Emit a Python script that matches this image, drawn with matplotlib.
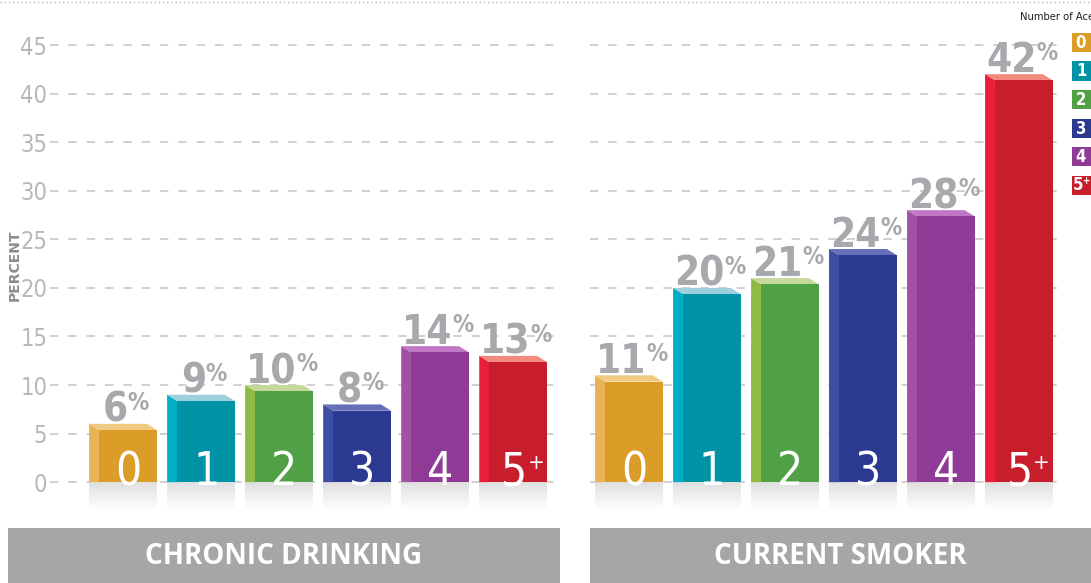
import numpy as np
import matplotlib.pyplot as plt
from matplotlib.patches import Polygon, Rectangle
from matplotlib.colors import LinearSegmentedColormap
from matplotlib.lines import Line2D

## data
aces = ['0', '1', '2', '3', '4', '5+']
drinking = [6, 9, 10, 8, 14, 13]
smoker = [11, 20, 21, 24, 28, 42]
panel_titles = ['CHRONIC DRINKING', 'CURRENT SMOKER']
yticks = [0, 5, 10, 15, 20, 25, 30, 35, 40, 45]

## colours per number of aces
front_colors = ['#dc9d28', '#0093a6', '#50a045', '#2b3990', '#8e3a96', '#c81d2a']
top_colors = ['#f0c983', '#9ecfdc', '#c5d99a', '#6670b8', '#c178c4', '#f28a7d']
side_colors = ['#e8b457', '#00aec7', '#8fbb44', '#3b4ea3', '#a152a6', '#e8203c']

narrow = dict(family='DejaVu Sans', stretch='condensed')
label_grey = '#a7a9ac'
W, DX, DY = 0.87, 0.13, 0.65

fig = plt.figure(figsize=(10.91, 5.83), dpi=100)
FW, FH = 1091, 583

def px(x0, y0, x1, y1):
    return [x0/FW, 1-y1/FH, (x1-x0)/FW, (y1-y0)/FH]

shadow_cmap = LinearSegmentedColormap.from_list('sh', ['#ffffff', '#dedede'])
grad = np.linspace(1, 0, 50).reshape(-1, 1)

def split_label(lab):
    # '5+' -> main '5', superscript '+'
    if lab.endswith('+'):
        return lab[:-1], '+'
    return lab, ''

def draw_panel(ax, values):
    for i, v in enumerate(values):
        x0, x1 = i - W/2, i + W/2
        ax.imshow(grad, extent=(x0, x1, -2.9, 0), cmap=shadow_cmap, vmin=0, vmax=1,
                  aspect='auto', zorder=1)
        ax.add_patch(Polygon([(x0, v), (x0+DX, v-DY), (x0+DX, 0), (x0, 0)],
                             color=side_colors[i], lw=0, zorder=2))
        ax.add_patch(Polygon([(x0, v), (x1-DX, v), (x1, v-DY), (x0+DX, v-DY)],
                             color=top_colors[i], lw=0, zorder=2))
        ax.bar(i + DX/2, v - DY, width=W - DX, color=front_colors[i], zorder=2)
        # value label
        t = ax.text(i - 0.1, v + 0.2, str(v), ha='center', va='baseline', fontsize=29,
                    fontweight='bold', color=label_grey, zorder=3, **narrow)
        ax.annotate('%', xy=(1, 1), xycoords=t, xytext=(0, 0), textcoords='offset points',
                    ha='left', va='top', fontsize=17, fontweight='bold', color=label_grey,
                    zorder=3, **narrow)
        # category inside bar
        main, sup = split_label(aces[i])
        c = ax.text(i + DX/2 - (0.05 if sup else 0), -0.3, main, ha='center', va='baseline',
                    fontsize=33, fontweight='light', color='white', zorder=3, **narrow)
        if sup:
            ax.annotate(sup, xy=(1, 1), xycoords=c, xytext=(0, -2), textcoords='offset points',
                        ha='left', va='top', fontsize=16, fontweight='light', color='white',
                        zorder=3, **narrow)
    ax.set_ylim(-4, 47)
    ax.set_yticks(yticks)
    ax.grid(axis='y', color='#c8c8c8', linestyle=(0, (5, 6)), linewidth=1.2)
    ax.set_axisbelow(True)
    ax.set_xticks([])
    for s in ax.spines.values():
        s.set_visible(False)
    ax.tick_params(axis='y', length=0, pad=2, labelsize=17, labelcolor='#b8b8b8')

ax1 = fig.add_axes(px(50, 25.6, 560, 521))
draw_panel(ax1, drinking)
ax1.set_xlim(-0.936, 5.60)
for lab in ax1.get_yticklabels():
    lab.set_fontstretch('condensed')
    lab.set_fontweight('light')

ax2 = fig.add_axes(px(590, 25.6, 1065, 521))
draw_panel(ax2, smoker)
ax2.set_xlim(-0.5, 5.59)
ax2.tick_params(axis='y', labelleft=False)

## panel title boxes
for (x0, x1), title in zip([(8, 560), (590, 1091)], panel_titles):
    fig.add_artist(Rectangle((x0/FW, 0), (x1-x0)/FW, 55/FH, transform=fig.transFigure,
                             color='#a6a6a6', lw=0))
    fig.text((x0+x1)/2/FW, 1-556/FH, title, ha='center', va='center', color='white',
             fontsize=20, fontweight='bold', family='Open Sans')

## top dotted line
fig.add_artist(Line2D([0, 1], [1-1.5/FH, 1-1.5/FH], transform=fig.transFigure,
                      color='#b5b5b5', linestyle=(0, (1, 2)), linewidth=1))

## y label
fig.text(15/FW, 1-265/FH, 'PERCENT', rotation=90, fontsize=10, fontweight='bold',
         color='#8c8c8c', ha='center', va='center')

## legend
fig.text(1020/FW, 1-17/FH, 'Number of Aces', fontsize=8, ha='left',
         va='center', color='#231f20', **narrow)
for k, lab in enumerate(aces):
    ytop = 33 + k*28.5
    fig.add_artist(Rectangle((1072/FW, 1-(ytop+19)/FH), 20/FW, 19/FH,
                             transform=fig.transFigure, color=front_colors[k], lw=0))
    main, sup = split_label(lab)
    fig.text((1081 - (3 if sup else 0))/FW, 1-(ytop+10)/FH, main, ha='center', va='center',
             fontsize=12, fontweight='bold', color='white', **narrow)
    if sup:
        fig.text(1082/FW, 1-(ytop+6)/FH, sup, ha='left', va='center', fontsize=7,
                 fontweight='bold', color='white', **narrow)

plt.savefig('out.png', dpi=100)
